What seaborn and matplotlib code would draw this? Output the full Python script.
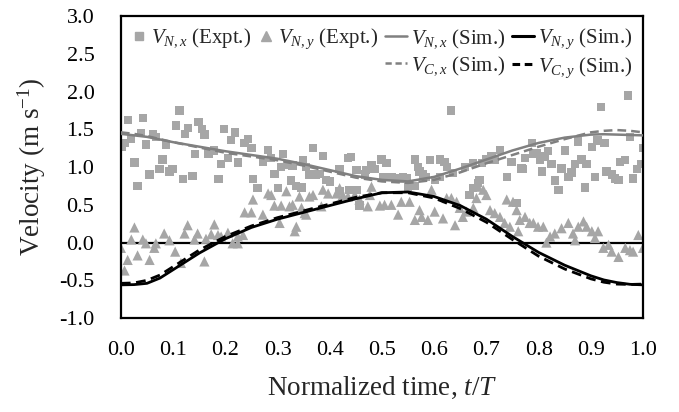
import numpy as np
import pandas as pd
import seaborn as sns
import matplotlib
matplotlib.use("Agg")
import matplotlib.pyplot as plt
from matplotlib.lines import Line2D
from matplotlib.legend_handler import HandlerLine2D

# ---------------- data ----------------
t_nx_expt = [0.014, 0.043, 0.112, 0.105, 0.149, 0.129, 0.156, 0.123, 0.160, 0.198, 0.218, 0.211, 0.237, 0.243,
             0.250, 0.002, 0.007, 0.020, 0.039, 0.061, 0.067, 0.048, 0.087, 0.142, 0.168, 0.179, 0.192, 0.205,
             0.224, 0.026, 0.080, 0.074, 0.093, 0.099, 0.055, 0.119, 0.137, 0.187, 0.032, 0.253,
             0.282, 0.310, 0.272, 0.288, 0.307, 0.320, 0.329, 0.349, 0.355, 0.368, 0.387, 0.294, 0.262, 0.301,
             0.326, 0.336, 0.346, 0.361, 0.374, 0.381, 0.393, 0.400, 0.419, 0.435, 0.441, 0.451, 0.470, 0.480,
             0.486, 0.499, 0.509, 0.419, 0.438, 0.451, 0.457, 0.467, 0.502,
             0.632, 0.563, 0.569, 0.572, 0.579, 0.592, 0.611, 0.620, 0.624, 0.636, 0.659, 0.675, 0.691, 0.700,
             0.710, 0.726, 0.748, 0.770, 0.739, 0.518, 0.531, 0.540, 0.547, 0.550, 0.563, 0.585, 0.601, 0.611,
             0.668, 0.687, 0.684, 0.675, 0.716,
             0.971, 0.919, 0.787, 0.790, 0.774, 0.796, 0.818, 0.812, 0.803, 0.825, 0.850, 0.876, 0.870, 0.882,
             0.892, 0.902, 0.913, 0.926, 0.975, 1.000, 0.767, 0.806, 0.844, 0.863, 0.857, 0.831, 0.838, 0.889,
             0.908, 0.930, 0.940, 0.946, 0.953, 0.956, 0.965, 0.981, 0.988, 0.996, 0.758]
v_nx_expt = [1.62, 1.65, 1.75, 1.55, 1.60, 1.52, 1.50, 1.44, 1.43, 1.50, 1.46, 1.36, 1.32, 1.37,
             1.25, 1.27, 1.32, 1.37, 1.45, 1.44, 1.40, 1.30, 1.30, 1.17, 1.18, 1.22, 1.04, 1.12,
             1.06, 1.06, 1.10, 0.97, 0.94, 0.97, 0.90, 0.84, 0.88, 0.84, 0.75, 0.84,
             1.23, 1.17, 1.07, 1.12, 1.00, 1.03, 1.02, 1.09, 1.00, 1.25, 1.15, 0.91, 0.72, 0.72,
             0.82, 0.75, 0.73, 0.90, 0.90, 0.91, 0.83, 0.81, 0.97, 1.12, 1.13, 0.96, 0.96, 1.03,
             0.97, 1.10, 1.05, 0.68, 0.70, 0.70, 0.49, 0.90, 0.87,
             1.75, 1.10, 1.00, 0.94, 0.90, 1.09, 1.10, 1.07, 1.00, 0.92, 1.00, 1.05, 1.05, 1.10,
             1.14, 1.23, 1.07, 0.97, 0.87, 0.87, 0.85, 0.87, 0.85, 0.74, 0.75, 0.87, 0.83, 0.87,
             0.63, 0.83, 0.79, 0.72, 1.10,
             1.95, 1.80, 1.32, 1.18, 1.12, 1.19, 1.21, 1.14, 1.09, 1.04, 1.22, 1.34, 1.04, 1.10,
             1.04, 1.27, 1.35, 1.32, 1.40, 1.25, 0.98, 0.94, 0.98, 0.93, 0.87, 0.82, 0.70, 0.73,
             0.87, 0.94, 0.90, 0.85, 0.83, 1.07, 1.09, 0.85, 0.97, 1.04, 0.52]

t_ny_expt = [0.026, 0.020, 0.000, 0.042, 0.048, 0.067, 0.083, 0.093, 0.064, 0.013, 0.032, 0.055, 0.007, 0.104,
             0.128, 0.122, 0.147, 0.141, 0.163, 0.179, 0.173, 0.186, 0.192, 0.205, 0.214, 0.224, 0.224, 0.234,
             0.237, 0.250, 0.115, 0.160, 0.253,
             0.282, 0.288, 0.317, 0.342, 0.361, 0.368, 0.294, 0.307, 0.323, 0.329, 0.346, 0.352, 0.384, 0.387,
             0.397, 0.413, 0.425, 0.435, 0.448, 0.457, 0.477, 0.480, 0.496, 0.505, 0.473, 0.272, 0.304, 0.336,
             0.333, 0.355, 0.419,
             0.518, 0.537, 0.553, 0.531, 0.572, 0.576, 0.563, 0.588, 0.595, 0.601, 0.617, 0.624, 0.633, 0.643,
             0.649, 0.640, 0.655, 0.662, 0.675, 0.681, 0.684, 0.694, 0.700, 0.707, 0.716, 0.726, 0.739, 0.751,
             0.758, 0.764, 0.735, 0.745, 0.761,
             0.774, 0.783, 0.790, 0.799, 0.809, 0.815, 0.822, 0.831, 0.844, 0.857, 0.866, 0.876, 0.886, 0.892,
             0.902, 0.914, 0.870, 0.908, 0.924, 0.934, 0.940, 0.953, 0.966, 0.975, 0.981, 0.991, 1.000]
v_ny_expt = [0.20, 0.04, -0.07, 0.04, -0.01, -0.01, 0.12, 0.03, -0.07, -0.23, -0.17, -0.23, -0.37, -0.12,
             0.23, 0.12, 0.12, 0.04, 0.05, 0.24, 0.11, 0.10, 0.08, 0.13, -0.01, -0.01, 0.08, 0.10,
             0.40, 0.40, -0.27, -0.25, 0.57,
             0.65, 0.63, 0.68, 0.61, 0.61, 0.63, 0.49, 0.49, 0.48, 0.50, 0.46, 0.39, 0.48, 0.70,
             0.65, 0.65, 0.63, 0.61, 0.63, 0.57, 0.63, 0.74, 0.49, 0.50, 0.48, 0.37, 0.26, 0.21,
             0.15, 0.37, 0.72,
             0.50, 0.54, 0.54, 0.37, 0.43, 0.34, 0.30, 0.30, 0.70, 0.41, 0.32, 0.59, 0.59, 0.54,
             0.46, 0.23, 0.34, 0.41, 0.46, 0.59, 0.74, 0.70, 0.63, 0.43, 0.39, 0.34, 0.57, 0.54,
             0.43, 0.30, 0.26, 0.21, 0.15,
             0.34, 0.26, 0.26, 0.21, 0.21, 0.00, 0.08, 0.12, 0.19, 0.26, 0.12, 0.21, 0.28, 0.21,
             0.15, 0.15, 0.03, 0.06, -0.07, -0.03, -0.12, -0.19, -0.07, -0.10, -0.12, 0.10, -0.07]

t_sim = [0.000, 0.025, 0.050, 0.075, 0.100, 0.150, 0.200, 0.250, 0.300, 0.350, 0.400, 0.450, 0.500,
         0.550, 0.600, 0.650, 0.700, 0.750, 0.800, 0.850, 0.900, 0.925, 0.950, 0.975, 1.000]
v_nx_sim = [1.44, 1.42, 1.40, 1.365, 1.33, 1.27, 1.21, 1.16, 1.11, 1.04, 0.96, 0.88, 0.83,
            0.81, 0.87, 0.98, 1.10, 1.22, 1.32, 1.39, 1.43, 1.435, 1.43, 1.425, 1.42]
v_ny_sim = [-0.56, -0.557, -0.54, -0.47, -0.36, -0.14, 0.05, 0.20, 0.31, 0.40, 0.49, 0.58, 0.66,
            0.67, 0.61, 0.49, 0.31, 0.08, -0.13, -0.30, -0.44, -0.495, -0.53, -0.553, -0.56]
v_cx_sim = [1.46, 1.44, 1.41, 1.37, 1.33, 1.26, 1.19, 1.14, 1.09, 1.02, 0.94, 0.86, 0.81,
            0.79, 0.83, 0.93, 1.05, 1.16, 1.27, 1.37, 1.46, 1.48, 1.49, 1.48, 1.46]
v_cy_sim = [-0.54, -0.535, -0.50, -0.43, -0.32, -0.10, 0.08, 0.22, 0.33, 0.42, 0.51, 0.60, 0.66,
            0.66, 0.59, 0.45, 0.27, 0.04, -0.18, -0.35, -0.48, -0.525, -0.55, -0.555, -0.55]

x_ticks = [0.0, 0.1, 0.2, 0.3, 0.4, 0.5, 0.6, 0.7, 0.8, 0.9, 1.0]
y_ticks = [-1.0, -0.5, 0.0, 0.5, 1.0, 1.5, 2.0, 2.5, 3.0]

labels = [r"$V_{N,x}$ (Expt.)", r"$V_{N,y}$ (Expt.)", r"$V_{N,x}$ (Sim.)",
          r"$V_{N,y}$ (Sim.)", r"$V_{C,x}$ (Sim.)", r"$V_{C,y}$ (Sim.)"]

# ---------------- style ----------------
sns.set_style("white")
plt.rcParams["font.family"] = ["Liberation Serif", "DejaVu Serif"]
plt.rcParams["mathtext.fontset"] = "custom"
plt.rcParams["mathtext.rm"] = "Liberation Serif"
plt.rcParams["mathtext.it"] = "Liberation Serif:italic"
plt.rcParams["mathtext.bf"] = "Liberation Serif:bold"
plt.rcParams["axes.unicode_minus"] = False

GRAY_PT = "#A6A6A6"
GRAY_LN = "#808080"
DASH = (0, (3.5, 2))

fig = plt.figure(figsize=(6.79, 4.12), dpi=100)
ax = fig.add_axes([0.178, 0.228, 0.769, 0.733])

ax.axhline(0, color="black", lw=1.6, zorder=1)

df_nx = pd.DataFrame({"t": t_nx_expt, "v": v_nx_expt})
df_ny = pd.DataFrame({"t": t_ny_expt, "v": v_ny_expt})
sns.scatterplot(data=df_nx, x="t", y="v", marker="s", s=36, color=GRAY_PT,
                edgecolor="none", ax=ax, zorder=2)
sns.scatterplot(data=df_ny, x="t", y="v", marker="^", s=54, color=GRAY_PT,
                edgecolor="none", ax=ax, zorder=2)

df_sim = pd.DataFrame({"t": t_sim, "nx": v_nx_sim, "ny": v_ny_sim,
                       "cx": v_cx_sim, "cy": v_cy_sim})
sns.lineplot(data=df_sim, x="t", y="nx", color=GRAY_LN, lw=1.8, ax=ax, zorder=3)
sns.lineplot(data=df_sim, x="t", y="cx", color=GRAY_LN, lw=1.8, ls=DASH, ax=ax, zorder=3)
sns.lineplot(data=df_sim, x="t", y="ny", color="black", lw=2.0, ax=ax, zorder=4)
sns.lineplot(data=df_sim, x="t", y="cy", color="black", lw=2.0, ls=DASH, ax=ax, zorder=4)

ax.set_xlim(0, 1)
ax.set_ylim(-1, 3)
ax.set_xticks(x_ticks)
ax.set_xticklabels([f"{v:.1f}" for v in x_ticks])
ax.set_yticks(y_ticks)
ax.set_yticklabels([f"{v:.1f}" for v in y_ticks])
ax.tick_params(axis="both", length=0, labelsize=16, colors="black")
ax.tick_params(axis="x", pad=16.5)
ax.tick_params(axis="y", pad=19)

ax.set_xlabel(r"Normalized time, $t$/$T$", fontsize=19.5, labelpad=11)
ax.set_ylabel(r"Velocity (m s$^{\mathregular{-1}}$)", fontsize=19.5, labelpad=8)

for sp in ax.spines.values():
    sp.set_visible(True)
    sp.set_color("black")
    sp.set_linewidth(1.6)


class ShortHandle(HandlerLine2D):
    """Narrow handle box for marker-only legend entries."""
    def __init__(self, frac=0.75, **kw):
        super().__init__(**kw)
        self.frac = frac

    def legend_artist(self, legend, orig_handle, fontsize, handlebox):
        handlebox.width = self.frac * fontsize
        return super().legend_artist(legend, orig_handle, fontsize, handlebox)


blank = Line2D([], [], linestyle="none", marker=None)
h_sq = Line2D([], [], linestyle="none", marker="s", markersize=6, color=GRAY_PT)
h_tri = Line2D([], [], linestyle="none", marker="^", markersize=7.2, color=GRAY_PT)
h_nx = Line2D([], [], color=GRAY_LN, lw=1.8)
h_ny = Line2D([], [], color="black", lw=2.2)
h_cx = Line2D([], [], color=GRAY_LN, lw=1.8, ls=(0, (2.5, 1.5)))
h_cy = Line2D([], [], color="black", lw=2.2, ls=(0, (2.5, 1.5)))

handles = [h_sq, blank, h_tri, blank, h_nx, h_cx, h_ny, h_cy]
leg_labels = [labels[0], "", labels[1], "", labels[2], labels[4], labels[3], labels[5]]
ax.legend(handles, leg_labels, ncol=4, loc="upper right", bbox_to_anchor=(1.0, 1.0),
          frameon=False, fontsize=15, handlelength=1.06, handletextpad=0.2,
          columnspacing=0.33, labelspacing=0.2, borderaxespad=0.2, borderpad=0.3,
          handler_map={h_sq: ShortHandle(0.75), h_tri: ShortHandle(0.75),
                       blank: ShortHandle(0.75)})

fig.savefig("out.png", dpi=100)
